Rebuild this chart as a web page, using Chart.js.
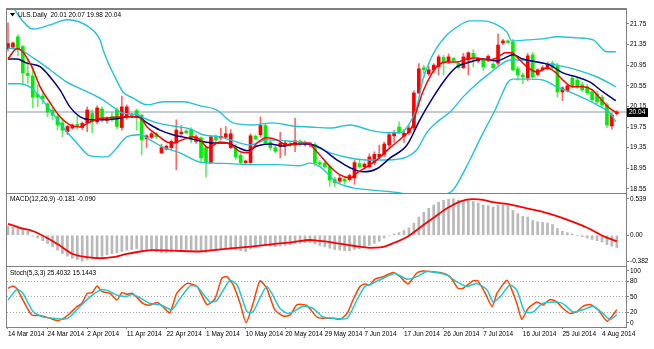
<!DOCTYPE html>
<html>
<head>
<meta charset="utf-8">
<title>ULS Daily</title>
<script src="https://cdn.jsdelivr.net/npm/chart.js@4.4.0/dist/chart.umd.min.js"></script>
<style>
  html, body { margin: 0; padding: 0; background: #fff; }
  #wrap { position: relative; width: 654px; height: 349px; overflow: hidden; background: #fff; }
  #wrap canvas { position: absolute; left: 0; }
</style>
</head>
<body>
<div id="wrap">
  <canvas id="price-chart" width="654" height="194" style="top:0px"></canvas>
  <canvas id="macd-chart" width="654" height="74" style="top:193px"></canvas>
  <canvas id="stoch-chart" width="654" height="83" style="top:266px"></canvas>
</div>
<script>
'use strict';

const symbolName = 'ULS.Daily';
const dateLabels = ['14 Mar 2014', '24 Mar 2014', '2 Apr 2014', '11 Apr 2014', '22 Apr 2014', '1 May 2014',
  '10 May 2014', '20 May 2014', '29 May 2014', '7 Jun 2014', '17 Jun 2014', '26 Jun 2014', '7 Jul 2014',
  '16 Jul 2014', '25 Jul 2014', '4 Aug 2014'];
const labelStep = 8; // bars between two date labels
const priceTicks = [21.75, 21.35, 20.95, 20.55, 20.15, 19.75, 19.35, 18.95, 18.55];
const macdTicks = [0.539, 0, -0.382];
const macdTickText = ['0.539', '0.00', '-0.382'];
const stochTicks = [100, 80, 50, 20, 0];
const stochLevels = [80, 50, 20];

// daily bars, oldest first
const opens = [21.27, 21.30, 21.50, 21.31, 20.79, 20.74, 20.38, 20.35, 20.20, 20.08,
  19.95, 19.83, 19.66, 19.73, 19.80, 19.74, 19.83, 20.01, 19.85, 20.10,
  19.88, 19.95, 20.08, 19.74, 19.95, 19.99, 20.07, 19.98, 19.52, 19.55,
  19.62, 19.25, 19.32, 19.35, 19.44, 19.62, 19.67, 19.70, 19.47, 19.54,
  19.35, 19.06, 19.56, 19.54, 19.55, 19.35, 19.35, 19.20, 19.06, 19.06,
  19.57, 19.60, 19.78, 19.46, 19.35, 19.37, 19.38, 19.43, 19.40, 19.47,
  19.42, 19.41, 19.41, 19.06, 19.05, 18.98, 18.74, 18.70, 18.74, 18.73,
  18.76, 19.04, 18.98, 18.98, 19.06, 19.17, 19.22, 19.40, 19.58, 19.75,
  19.57, 19.64, 19.73, 20.41, 20.90, 20.78, 20.86, 20.92, 21.10, 21.02,
  21.08, 20.99, 20.90, 21.05, 21.18, 21.03, 21.05, 21.05, 20.97, 20.99,
  21.38, 21.42, 21.40, 20.88, 20.76, 20.70, 21.15, 20.77, 20.86, 20.88,
  20.99, 20.94, 20.43, 20.45, 20.70, 20.66, 20.57, 20.53, 20.43, 20.39,
  20.33, 20.18, 19.77, 20.01];
const highs = [21.77, 21.40, 21.54, 21.33, 21.08, 20.92, 20.57, 20.40, 20.22, 20.13,
  19.99, 19.89, 19.78, 19.81, 19.96, 19.85, 20.14, 20.08, 20.16, 20.14,
  19.95, 20.03, 20.12, 20.35, 20.18, 20.02, 20.10, 20.00, 19.60, 19.65,
  19.65, 19.42, 19.40, 19.50, 19.89, 19.78, 19.70, 19.74, 19.60, 19.56,
  19.37, 19.58, 19.60, 19.73, 19.76, 19.70, 19.42, 19.24, 19.11, 19.62,
  19.60, 19.95, 19.81, 19.48, 19.38, 19.65, 19.48, 19.46, 19.92, 19.50,
  19.48, 19.46, 19.44, 19.10, 19.08, 19.00, 18.78, 18.82, 18.78, 18.84,
  19.11, 19.12, 19.06, 19.23, 19.27, 19.40, 19.46, 19.64, 19.68, 19.85,
  19.70, 19.78, 20.45, 20.98, 20.95, 20.93, 20.98, 21.15, 21.14, 21.17,
  21.10, 21.02, 21.18, 21.21, 21.25, 21.09, 21.07, 21.15, 21.00, 21.56,
  21.45, 21.44, 21.45, 20.92, 20.80, 21.18, 21.20, 20.88, 20.94, 21.01,
  21.03, 20.99, 20.53, 20.58, 20.74, 20.70, 20.62, 20.57, 20.47, 20.45,
  20.37, 20.22, 20.02, 20.07];
const lows = [21.22, 21.27, 21.13, 20.60, 20.60, 20.12, 20.14, 20.20, 19.95, 19.89,
  19.69, 19.56, 19.60, 19.71, 19.70, 19.70, 19.66, 19.64, 19.81, 19.85,
  19.83, 19.86, 19.72, 19.69, 19.90, 19.93, 19.69, 19.21, 19.35, 19.52,
  19.53, 19.23, 19.30, 19.31, 18.92, 19.58, 19.62, 19.44, 19.43, 19.05,
  18.78, 19.04, 19.45, 19.50, 19.52, 19.33, 19.12, 19.04, 19.04, 19.04,
  19.50, 19.56, 19.42, 19.30, 19.25, 19.15, 19.20, 19.37, 19.27, 19.38,
  19.38, 19.36, 19.00, 18.98, 18.95, 18.60, 18.59, 18.65, 18.64, 18.70,
  18.64, 18.95, 18.94, 18.95, 19.02, 19.14, 19.18, 19.36, 19.45, 19.62,
  19.45, 19.60, 19.69, 20.40, 20.78, 20.75, 20.80, 20.76, 20.76, 20.98,
  21.00, 20.88, 20.88, 20.76, 20.92, 21.00, 20.85, 21.02, 20.88, 20.95,
  21.35, 21.37, 20.84, 20.66, 20.59, 20.65, 20.70, 20.74, 20.84, 20.86,
  20.88, 20.33, 20.26, 20.43, 20.50, 20.50, 20.44, 20.38, 20.24, 20.20,
  20.14, 19.74, 19.71, 19.98];
const closes = [21.37, 21.38, 21.25, 20.80, 20.75, 20.33, 20.33, 20.30, 20.04, 19.98,
  19.79, 19.69, 19.76, 19.79, 19.77, 19.82, 20.08, 19.85, 20.12, 19.89,
  19.92, 19.91, 19.76, 20.14, 20.14, 19.95, 19.95, 19.50, 19.58, 19.62,
  19.56, 19.35, 19.38, 19.47, 19.69, 19.65, 19.64, 19.50, 19.56, 19.15,
  19.06, 19.56, 19.50, 19.57, 19.62, 19.62, 19.17, 19.06, 19.09, 19.58,
  19.52, 19.78, 19.44, 19.35, 19.28, 19.44, 19.44, 19.40, 19.48, 19.42,
  19.45, 19.44, 19.06, 19.03, 18.98, 18.72, 18.67, 18.76, 18.70, 18.81,
  19.06, 18.98, 19.03, 19.17, 19.22, 19.22, 19.42, 19.60, 19.64, 19.64,
  19.63, 19.73, 20.41, 20.88, 20.86, 20.86, 20.95, 21.11, 21.00, 21.11,
  21.04, 20.90, 21.11, 21.19, 21.10, 21.07, 20.92, 21.12, 20.90, 21.34,
  21.42, 21.39, 20.86, 20.76, 20.72, 21.13, 20.72, 20.86, 20.90, 20.97,
  20.90, 20.43, 20.51, 20.55, 20.53, 20.53, 20.47, 20.41, 20.28, 20.24,
  20.18, 19.79, 19.98, 20.04];

// moving averages and bands as [bar, price]
const fastMa = [[0, 21.07], [1.8, 21.27], [2.8, 21.23], [4.8, 20.92], [6.5, 20.53], [8.5, 20.22], [10.5, 19.95],
  [12.5, 19.79], [14.5, 19.75], [16.2, 19.83], [18.2, 19.91], [20.6, 19.93], [23.0, 19.95], [25.1, 19.95],
  [26.7, 19.93], [28.1, 19.75], [30.1, 19.60], [32.1, 19.46], [33.3, 19.44], [35.2, 19.50], [37.2, 19.56],
  [38.8, 19.50], [40.4, 19.35], [42.8, 19.46], [44.8, 19.42], [46.9, 19.27], [48.5, 19.25], [50.3, 19.44],
  [52.3, 19.54], [54.3, 19.50], [56.4, 19.40], [58.4, 19.42], [60.4, 19.44], [62.4, 19.27], [65.1, 18.98],
  [67.1, 18.82], [69.1, 18.76], [70.5, 18.86], [72.5, 18.98], [74.5, 19.11], [77.2, 19.35], [79.8, 19.56],
  [81.6, 19.75], [82.6, 20.08], [83.8, 20.43], [85.7, 20.80], [86.9, 20.95], [88.7, 21.01], [90.7, 21.01],
  [92.7, 21.07], [94.7, 21.09], [96.8, 21.05], [98.8, 21.09], [100.4, 21.19], [101.8, 21.19], [103.0, 21.09],
  [104.8, 20.92], [106.9, 20.82], [108.9, 20.90], [110.5, 20.82], [112.1, 20.66], [114.1, 20.53], [116.2, 20.53],
  [118.0, 20.47], [119.6, 20.31], [121.2, 20.14], [123.0, 20.02]];
const slowMa = [[0, 21.07], [1.8, 21.07], [3.8, 20.99], [6.5, 20.92], [8.5, 20.72], [10.5, 20.47], [12.5, 20.14],
  [14.5, 19.95], [16.6, 19.89], [19.2, 19.89], [22.0, 19.91], [24.0, 19.95], [26.1, 19.95], [28.1, 19.83],
  [30.7, 19.69], [33.3, 19.60], [36.2, 19.54], [38.8, 19.48], [41.4, 19.44], [44.2, 19.44], [46.3, 19.36],
  [48.3, 19.29], [50.3, 19.38], [52.9, 19.42], [55.6, 19.38], [57.6, 19.42], [60.4, 19.42], [63.0, 19.35],
  [66.5, 19.11], [69.1, 18.96], [71.7, 18.88], [74.5, 18.94], [77.2, 19.15], [80.6, 19.40], [83.2, 19.89],
  [85.9, 20.33], [88.7, 20.72], [90.7, 20.92], [93.3, 21.01], [96.0, 21.07], [98.8, 21.03], [100.8, 21.11],
  [102.0, 21.15], [104.0, 21.07], [106.9, 21.01], [109.5, 20.95], [112.1, 20.80], [114.9, 20.72], [117.6, 20.62],
  [120.2, 20.43], [122.8, 20.26]];
const bandUpper = [[1.0, 22.10], [2.0, 21.93], [5.1, 21.65], [8.5, 21.73], [11.9, 21.83], [16.6, 21.67],
  [18.6, 21.44], [19.2, 21.25], [20.6, 20.92], [21.2, 20.80], [22.6, 20.53], [23.2, 20.43], [25.3, 20.31],
  [28.1, 20.18], [31.3, 20.24], [35.4, 20.24], [38.8, 20.16], [42.2, 20.08], [45.5, 19.83], [49.5, 19.79],
  [53.5, 19.83], [57.6, 19.77], [61.0, 19.75], [65.1, 19.73], [69.1, 19.79], [73.1, 19.69], [76.6, 19.64],
  [79.2, 19.64], [81.2, 19.83], [82.6, 20.14], [83.8, 20.66], [85.3, 21.05], [86.7, 21.30], [88.7, 21.54],
  [90.7, 21.69], [93.3, 21.81], [96.0, 21.81], [98.8, 21.73], [100.8, 21.59], [101.8, 21.42], [104.8, 21.44],
  [108.1, 21.46], [110.9, 21.50], [114.9, 21.48], [118.2, 21.44], [121.0, 21.21], [122.8, 21.21]];
const bandMiddle = [[0, 21.28], [2.4, 21.25], [5.1, 21.09], [8.5, 20.86], [11.9, 20.62], [15.2, 20.47],
  [18.6, 20.31], [21.2, 20.14], [23.2, 20.02], [26.1, 19.99], [27.3, 19.93], [30.1, 19.83], [33.3, 19.77],
  [36.8, 19.71], [39.4, 19.60], [42.8, 19.56], [45.5, 19.48], [48.9, 19.40], [52.3, 19.50], [56.4, 19.48],
  [60.4, 19.44], [65.1, 19.25], [69.1, 19.15], [73.1, 19.11], [76.6, 19.11], [80.6, 19.17], [82.6, 19.31],
  [84.6, 19.64], [86.7, 19.85], [89.3, 20.04], [91.9, 20.33], [94.7, 20.59], [97.4, 20.80], [99.4, 20.95],
  [101.4, 21.05], [104.0, 21.05], [108.1, 20.99], [110.9, 20.95], [114.9, 20.86], [119.0, 20.72], [122.8, 20.53]];
const bandLower = [[0, 20.59], [2.4, 20.59], [4.4, 20.53], [6.5, 20.33], [8.5, 20.08], [11.1, 19.75],
  [13.9, 19.44], [16.6, 19.19], [20.0, 19.17], [22.0, 19.35], [24.0, 19.56], [26.7, 19.60], [28.7, 19.50],
  [31.3, 19.36], [34.7, 19.25], [38.8, 19.07], [41.4, 19.05], [44.8, 19.04], [49.5, 19.02], [54.3, 19.02],
  [59.0, 19.00], [61.0, 19.05], [63.0, 18.98], [66.5, 18.67], [69.7, 18.57], [73.1, 18.53], [79.2, 18.47],
  [83.2, 18.36], [87.3, 18.42], [89.9, 18.53], [93.3, 19.11], [96.0, 19.64], [98.4, 20.08], [100.0, 20.43],
  [101.0, 20.62], [102.0, 20.68], [105.5, 20.68], [108.1, 20.66], [110.9, 20.53], [114.9, 20.37], [119.0, 20.18],
  [121.6, 20.02], [122.8, 19.85]];

// MACD(12,26,9): main value per bar, signal as [bar, value]
const macdMain = [0.14, 0.12, 0.11, 0.09, 0.06, -0.01, -0.04, -0.08, -0.12, -0.17,
  -0.22, -0.27, -0.31, -0.34, -0.36, -0.382, -0.36, -0.35, -0.33, -0.31,
  -0.29, -0.27, -0.26, -0.24, -0.22, -0.21, -0.20, -0.22, -0.23, -0.23,
  -0.24, -0.26, -0.26, -0.25, -0.22, -0.21, -0.21, -0.22, -0.22, -0.24,
  -0.26, -0.23, -0.22, -0.21, -0.20, -0.20, -0.21, -0.23, -0.24, -0.20,
  -0.18, -0.15, -0.15, -0.16, -0.17, -0.16, -0.15, -0.14, -0.12, -0.12,
  -0.11, -0.11, -0.13, -0.15, -0.17, -0.19, -0.21, -0.22, -0.23, -0.23,
  -0.21, -0.20, -0.18, -0.15, -0.12, -0.09, -0.04, -0.01, 0.02, 0.04,
  0.07, 0.11, 0.18, 0.27, 0.34, 0.40, 0.45, 0.49, 0.52, 0.535,
  0.539, 0.52, 0.50, 0.52, 0.50, 0.48, 0.45, 0.44, 0.42, 0.45,
  0.45, 0.43, 0.37, 0.32, 0.28, 0.27, 0.22, 0.20, 0.19, 0.18,
  0.16, 0.10, 0.06, 0.04, 0.02, 0.00, -0.02, -0.04, -0.06, -0.08,
  -0.10, -0.14, -0.16, -0.181];
const macdSignal = [[0, 0.17], [2.4, 0.11], [5.1, 0.06], [7.9, -0.04], [10.5, -0.155], [13.1, -0.277],
  [16.0, -0.325], [18.6, -0.34], [21.2, -0.325], [24.0, -0.277], [26.7, -0.24], [29.3, -0.22], [33.3, -0.228],
  [38.8, -0.24], [41.4, -0.22], [45.5, -0.19], [49.5, -0.165], [53.5, -0.13], [57.6, -0.10], [61.0, -0.07],
  [63.0, -0.083], [65.7, -0.107], [69.7, -0.155], [73.1, -0.185], [75.2, -0.18], [77.8, -0.117], [80.6, -0.024],
  [83.2, 0.112], [85.9, 0.257], [88.7, 0.40], [91.3, 0.50], [93.9, 0.535], [96.0, 0.525], [98.0, 0.49],
  [100.8, 0.466], [104.8, 0.40], [108.9, 0.33], [112.9, 0.233], [117.0, 0.112], [120.2, -0.01], [123, -0.090]];

// Stochastic(5,3,3) as [bar, value]
const stochMain = [[0, 66.5], [1.0, 71], [1.8, 66], [3.0, 44], [4.8, 15], [6.5, 14], [8.5, 8.5], [10.1, 4],
  [11.9, 13], [13.9, 31], [14.9, 37], [16.0, 57], [17.0, 58], [18.0, 71], [19.0, 60], [20.6, 57], [22.0, 44],
  [23.0, 58], [24.0, 55], [25.1, 57], [26.1, 48], [27.3, 37], [28.7, 34], [30.1, 39], [31.3, 31], [32.7, 19],
  [34.1, 57], [36.2, 76], [38.2, 70], [40.2, 35], [41.8, 46], [43.2, 86], [44.2, 89], [45.5, 73], [46.9, 37],
  [48.1, 0], [49.5, 37], [50.9, 81], [52.3, 66], [53.9, 25], [55.6, 13], [57.0, 15], [58.4, 35], [60.4, 33],
  [62.4, 11], [63.6, 8.5], [65.7, 8.5], [67.1, 6.5], [68.5, 18], [69.7, 44], [71.1, 70], [72.1, 75], [73.1, 73],
  [74.1, 84], [75.8, 89], [77.8, 97], [79.2, 89], [80.8, 75], [82.6, 96], [83.8, 100], [85.3, 99], [87.3, 97],
  [89.3, 89], [90.9, 66.5], [91.9, 66.5], [93.9, 81], [94.9, 81], [96.4, 57], [97.8, 31], [98.8, 57], [100.8, 82],
  [101.8, 63], [102.8, 37], [103.8, 6.5], [105.1, 28], [106.9, 40], [108.1, 34], [109.5, 45], [110.9, 40],
  [112.1, 28], [113.5, 18], [114.9, 21], [116.2, 32], [117.6, 35], [119.2, 25], [121.0, 3], [122.0, 12],
  [123, 25.4032]];
const stochSignal = [[0, 44], [1.8, 64.5], [3.0, 57], [5.1, 21], [7.1, 11], [9.1, 8.5], [11.1, 6.5], [12.5, 11],
  [14.5, 31], [16.6, 50], [18.6, 63], [20.0, 63], [22.0, 53], [24.0, 51], [25.1, 55], [26.7, 48], [28.7, 37],
  [30.7, 35], [33.1, 25], [34.7, 46], [36.8, 71], [38.2, 70], [40.8, 40], [42.2, 43], [44.8, 82], [46.3, 73],
  [48.3, 21], [49.5, 21], [52.3, 70], [54.9, 28], [56.4, 18], [57.6, 21], [59.6, 32], [61.6, 28], [63.6, 11],
  [65.7, 8.5], [68.5, 8.5], [70.5, 44], [72.1, 70], [73.7, 76], [75.8, 86], [78.2, 95], [80.6, 84], [82.6, 89],
  [84.6, 99], [86.7, 97], [88.7, 92], [90.7, 79], [92.7, 70], [94.7, 76], [96.8, 63], [98.0, 40], [99.4, 50],
  [101.4, 73], [102.8, 63], [104.4, 21], [106.1, 21], [107.9, 37], [110.1, 40], [112.1, 37], [114.1, 21],
  [116.2, 25], [118.2, 32], [120.2, 18], [121.6, 6], [123, 15.1443]];

const X_MIN = -0.2;
const X_MAX = 124.85;
const AXIS_WIDTH = 28;
const FONT_FAMILY = "'Liberation Sans', Arial, sans-serif";
const FONT_SIZE = 6.5;
const FRAME = '#808080';
const UP = '#ff0000';
const DOWN = '#00ee00';
const UP_WICK = 'rgba(255,0,0,0.6)';
const DOWN_WICK = 'rgba(0,220,0,0.6)';
const BAND = '#22c4d4';

Chart.defaults.font.family = FONT_FAMILY;
Chart.defaults.font.size = FONT_SIZE;
Chart.defaults.color = '#000';

const last = (arr) => arr[arr.length - 1];
const toPoints = (arr) => arr.map(([x, y]) => ({ x, y }));
const isUp = (i) => closes[i] >= opens[i];

function xScale(show) {
  const scale = {
    type: 'linear', min: X_MIN, max: X_MAX, offset: false, display: show,
    grid: { offset: false, drawOnChartArea: false, drawTicks: true, tickLength: 2, color: FRAME },
    border: { display: true, color: FRAME }
  };
  if (show) {
    scale.afterBuildTicks = (s) => { s.ticks = dateLabels.map((_, i) => ({ value: i * labelStep })); };
    scale.afterFit = (s) => { s.height = 22; s.paddingLeft = 0; s.paddingRight = 0; };
    scale.ticks = {
      align: 'start', autoSkip: false, maxRotation: 0, minRotation: 0, padding: 1,
      callback: (v) => dateLabels[Math.round(v / labelStep)]
    };
  }
  return scale;
}

function yScale(min, max, ticks, format, grid) {
  return {
    type: 'linear', position: 'right', min, max,
    afterBuildTicks: (s) => { s.ticks = ticks.map((v) => ({ value: v })); },
    afterFit: (s) => { s.width = AXIS_WIDTH; s.paddingTop = 0; s.paddingBottom = 0; },
    grid: Object.assign({ drawOnChartArea: false, tickLength: 3, color: FRAME, tickColor: FRAME }, grid || {}),
    border: { display: true, color: FRAME, dash: [1, 2] },
    ticks: { padding: 1, autoSkip: false, callback: format }
  };
}

function lineSet(data, color, width, order, tension) {
  return {
    type: 'line', data: toPoints(data), borderColor: color, borderWidth: width,
    pointRadius: 0, fill: false, order,
    tension: tension === undefined ? 0.4 : tension,
    cubicInterpolationMode: tension === undefined ? 'monotone' : 'default'
  };
}

// box around each panel
const panelFrame = {
  id: 'panelFrame',
  afterDraw(chart) {
    const { ctx, chartArea: a } = chart;
    ctx.save();
    ctx.strokeStyle = FRAME;
    ctx.lineWidth = 1;
    ctx.strokeRect(a.left - 0.5, a.top - 0.5, a.width + 1, a.height + 1);
    ctx.lineWidth = 2;
    ctx.beginPath();
    ctx.moveTo(a.left - 1, a.top - 1);
    ctx.lineTo(a.right + 1, a.top - 1);
    ctx.stroke();
    ctx.restore();
  }
};

// indicator caption in the top left corner of a panel
const panelCaption = {
  id: 'panelCaption',
  afterDraw(chart, args, opts) {
    if (!opts.text) return;
    const { ctx, chartArea: a } = chart;
    ctx.save();
    ctx.font = `${FONT_SIZE}px ${FONT_FAMILY}`;
    ctx.fillStyle = '#000';
    ctx.textBaseline = 'middle';
    let x = a.left + 3;
    const y = a.top + opts.dy;
    if (opts.marker) {
      ctx.beginPath();
      ctx.moveTo(x, y - 2);
      ctx.lineTo(x + 5, y - 2);
      ctx.lineTo(x + 2.5, y + 1.5);
      ctx.closePath();
      ctx.fill();
      x += 8;
    }
    ctx.fillText(opts.text, x, y);
    ctx.restore();
  }
};

// bid line across the price panel and its label on the axis
const bidLine = {
  id: 'bidLine',
  beforeDatasetsDraw(chart) {
    const { ctx, chartArea: a, scales } = chart;
    const y = scales.y.getPixelForValue(last(closes));
    ctx.save();
    ctx.strokeStyle = '#c4cbd2';
    ctx.lineWidth = 2;
    ctx.beginPath();
    ctx.moveTo(a.left, y);
    ctx.lineTo(a.right, y);
    ctx.stroke();
    ctx.restore();
  },
  afterDraw(chart) {
    const { ctx, chartArea: a, scales } = chart;
    const y = Math.round(scales.y.getPixelForValue(last(closes)));
    ctx.save();
    ctx.fillStyle = '#000';
    ctx.fillRect(a.right + 1, y - 4, 21, 9);
    ctx.fillStyle = '#fff';
    ctx.font = `${FONT_SIZE}px ${FONT_FAMILY}`;
    ctx.textBaseline = 'middle';
    ctx.fillText(last(closes).toFixed(2), a.right + 3, y + 0.5);
    ctx.restore();
  }
};

const baseOptions = (padding) => ({
  responsive: false, animation: false, events: [],
  layout: { padding },
  plugins: { legend: { display: false }, tooltip: { enabled: false } }
});

function buildPriceChart() {
  const n = closes.length;
  const wicks = [];
  const bodies = [];
  for (let i = 0; i < n; i++) {
    wicks.push({ x: i, y: [lows[i], highs[i]] });
    bodies.push({ x: i, y: [opens[i], closes[i]] });
  }
  const options = baseOptions({ left: 7, top: 10, right: 0, bottom: 1 });
  options.scales = {
    x: xScale(false),
    y: yScale(18.47, 22.02, priceTicks, (v) => v.toFixed(2))
  };
  const caption = `${symbolName}  ${opens[n - 1].toFixed(2)} ${highs[n - 1].toFixed(2)} ${lows[n - 1].toFixed(2)} ${closes[n - 1].toFixed(2)}`;
  options.plugins.panelCaption = { text: caption, dy: 5, marker: true };
  new Chart(document.getElementById('price-chart'), {
    type: 'bar',
    data: {
      datasets: [
        { data: wicks, barThickness: 1, grouped: false, order: 10, borderWidth: 0,
          backgroundColor: (c) => (isUp(c.dataIndex) ? UP_WICK : DOWN_WICK) },
        { data: bodies, barThickness: 3, grouped: false, order: 9, borderWidth: 0, minBarLength: 1,
          backgroundColor: (c) => (isUp(c.dataIndex) ? UP : DOWN) },
        lineSet(bandUpper, BAND, 1.4, 5),
        lineSet(bandMiddle, BAND, 1.4, 5),
        lineSet(bandLower, BAND, 1.4, 5),
        lineSet(slowMa, '#000080', 1.5, 2),
        lineSet(fastMa, '#ff0000', 1.5, 1)
      ]
    },
    options,
    plugins: [bidLine, panelCaption, panelFrame]
  });
}

function buildMacdChart() {
  const options = baseOptions({ left: 7, top: 1, right: 0, bottom: 1 });
  options.scales = {
    x: xScale(false),
    y: yScale(-0.455, 0.612, macdTicks, (v, i) => macdTickText[i])
  };
  options.plugins.panelCaption = {
    text: `MACD(12,26,9) ${last(macdMain).toFixed(3)} ${last(macdSignal)[1].toFixed(3)}`, dy: 5
  };
  new Chart(document.getElementById('macd-chart'), {
    type: 'bar',
    data: {
      datasets: [
        { data: macdMain.map((y, x) => ({ x, y })), barThickness: 2, grouped: false, order: 3,
          borderWidth: 0, backgroundColor: '#b9b9b9' },
        lineSet(macdSignal, '#ff0000', 1.8, 1)
      ]
    },
    options,
    plugins: [panelCaption, panelFrame]
  });
}

function buildStochChart() {
  const options = baseOptions({ left: 7, top: 1, right: 0, bottom: 0 });
  options.scales = {
    x: xScale(true),
    y: yScale(-8.3, 107.7, stochTicks, (v) => String(v), {
      drawOnChartArea: true,
      color: (c) => (c.tick && stochLevels.includes(c.tick.value) ? '#a8a8a8' : 'rgba(0,0,0,0)')
    })
  };
  options.plugins.panelCaption = {
    text: `Stoch(5,3,3) ${last(stochMain)[1].toFixed(4)} ${last(stochSignal)[1].toFixed(4)}`, dy: 6
  };
  new Chart(document.getElementById('stoch-chart'), {
    type: 'line',
    data: {
      datasets: [
        lineSet(stochMain, '#ff4400', 1.5, 2, 0.2),
        lineSet(stochSignal, '#1ec6d2', 1.5, 1, 0.2)
      ]
    },
    options,
    plugins: [panelCaption, panelFrame]
  });
}

buildPriceChart();
buildMacdChart();
buildStochChart();
</script>
</body>
</html>
